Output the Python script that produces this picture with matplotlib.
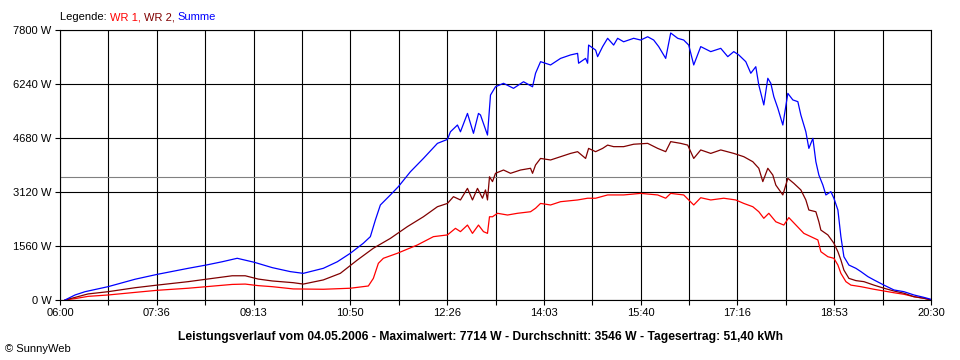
import numpy as np
import matplotlib
matplotlib.use("Agg")
import matplotlib.pyplot as plt

plt.rcParams["font.family"] = ["Liberation Sans", "DejaVu Sans"]

# Uhrzeit in Minuten seit Mitternacht, Leistung in W
t_sum = [365, 375, 385, 408, 435, 457, 488, 506, 522, 537,
         554, 572, 590, 603, 623, 637, 650, 663, 670, 675,
         680, 690, 698, 710, 723, 737, 747, 750, 757, 760,
         767, 773, 778, 780, 787, 790, 795, 803, 813, 823,
         832, 835, 840, 850, 860, 870, 877, 878, 885, 887,
         888, 895, 897, 902, 907, 913, 917, 923, 933, 940,
         947, 953, 958, 965, 970, 977, 983, 988, 993, 1000,
         1010, 1020, 1027, 1033, 1038, 1045, 1050, 1055, 1058, 1063,
         1067, 1070, 1073, 1077, 1082, 1087, 1092, 1097, 1100, 1105,
         1108, 1112, 1115, 1118, 1122, 1125, 1130, 1133, 1137, 1140,
         1143, 1148, 1155, 1160, 1167, 1173, 1183, 1193, 1203, 1213,
         1223, 1230]
p_sum = [0, 145, 240, 385, 600, 740, 915, 1010, 1105, 1205,
         1090, 935, 820, 770, 915, 1105, 1350, 1640, 1830, 2310,
         2745, 3035, 3275, 3705, 4090, 4525, 4640, 4860, 5055, 4860,
         5390, 4815, 5390, 5345, 4765, 5920, 6160, 6260, 6115, 6305,
         6160, 6550, 6885, 6790, 6980, 7080, 7125, 6840, 6980, 6840,
         7365, 7220, 7030, 7320, 7560, 7365, 7560, 7460, 7560, 7510,
         7605, 7510, 7320, 6980, 7714, 7560, 7510, 7365, 6790, 7320,
         7175, 7270, 7030, 7175, 7080, 6885, 6550, 6740, 6210, 5635,
         6405, 6260, 5875, 5540, 5055, 5970, 5780, 5730, 5345, 4860,
         4380, 4670, 3995, 3610, 3320, 3035, 3130, 2940, 2600, 1830,
         1250, 1010, 915, 820, 675, 580, 430, 290, 240, 145,
         75, 20]

t_wr2 = [365, 375, 388, 408, 435, 457, 488, 506, 532, 545,
         558, 572, 593, 603, 623, 640, 657, 673, 690, 707,
         723, 737, 747, 753, 760, 767, 772, 777, 782, 785,
         787, 789, 792, 795, 803, 810, 820, 830, 832, 835,
         840, 850, 860, 870, 877, 885, 888, 895, 902, 907,
         913, 923, 933, 947, 957, 965, 970, 980, 987, 993,
         1000, 1010, 1020, 1033, 1043, 1052, 1058, 1062, 1067, 1072,
         1075, 1082, 1087, 1093, 1100, 1105, 1108, 1115, 1118, 1120,
         1127, 1133, 1137, 1140, 1143, 1148, 1155, 1163, 1173, 1183,
         1193, 1203, 1213, 1223, 1230]
p_wr2 = [0, 75, 175, 240, 355, 430, 530, 600, 700, 700,
         605, 550, 500, 460, 580, 770, 1155, 1495, 1780, 2120,
         2405, 2695, 2790, 2985, 2890, 3225, 2890, 3225, 2940, 3180,
         2890, 3560, 3420, 3660, 3755, 3660, 3755, 3805, 3660, 3900,
         4090, 4045, 4140, 4235, 4285, 4090, 4380, 4285, 4380, 4475,
         4430, 4430, 4500, 4525, 4380, 4285, 4575, 4525, 4475, 4090,
         4335, 4235, 4335, 4235, 4140, 3995, 3805, 3420, 3805, 3610,
         3320, 3035, 3515, 3370, 3180, 2890, 2600, 2550, 2260, 2020,
         1880, 1640, 1395, 1155, 865, 625, 560, 530, 430, 340,
         260, 195, 95, 50, 0]

t_wr1 = [365, 375, 388, 408, 435, 457, 488, 506, 532, 545,
         558, 572, 593, 623, 650, 668, 673, 678, 683, 697,
         717, 733, 747, 755, 760, 767, 772, 778, 783, 787,
         789, 792, 797, 807, 817, 830, 835, 840, 850, 860,
         877, 887, 895, 907, 923, 940, 957, 965, 970, 983,
         993, 1000, 1010, 1023, 1035, 1043, 1052, 1058, 1063, 1068,
         1075, 1083, 1088, 1103, 1117, 1120, 1127, 1133, 1137, 1140,
         1145, 1150, 1160, 1173, 1183, 1193, 1203, 1213, 1223, 1230]
p_wr1 = [0, 40, 105, 145, 220, 280, 340, 385, 450, 460,
         415, 385, 320, 310, 340, 405, 625, 1060, 1205, 1350,
         1590, 1830, 1880, 2070, 1975, 2165, 1925, 2165, 1975, 1925,
         2405, 2405, 2505, 2455, 2505, 2550, 2650, 2790, 2745, 2840,
         2890, 2940, 2940, 3035, 3035, 3080, 3035, 2940, 3080, 3035,
         2745, 2955, 2890, 2940, 2890, 2790, 2695, 2550, 2360, 2505,
         2260, 2165, 2380, 1925, 1735, 1395, 1250, 1205, 1010, 770,
         530, 430, 385, 310, 260, 210, 165, 95, 50, 0]

mittel = 3546
y_ticks = [0, 1560, 3120, 4680, 6240, 7800]
x_start, x_end = 360, 1230
x_grid = np.linspace(x_start, x_end, 19)


def hhmm(m):
    m = int(m + 1e-6)
    return "%02d:%02d" % (m // 60, m % 60)


fig = plt.figure(figsize=(9.6, 3.6), dpi=100)
ax = fig.add_axes([60 / 960, 60 / 360, 871 / 960, 270 / 360])

for xv in x_grid:
    ax.axvline(xv, color="black", lw=0.8, zorder=1)
for yv in y_ticks:
    ax.axhline(yv, color="black", lw=0.8, zorder=1)
ax.axhline(mittel, color="#808080", lw=0.8, zorder=1)

ax.plot(t_wr1, p_wr1, color="#ff0000", lw=0.9, zorder=3)
ax.plot(t_wr2, p_wr2, color="#800000", lw=0.9, zorder=3)
ax.plot(t_sum, p_sum, color="#0000ff", lw=0.9, zorder=3)

ax.set_xlim(x_start, x_end)
ax.set_ylim(0, 7800)
ax.set_xticks(x_grid)
ax.set_xticklabels([hhmm(v) if i % 2 == 0 else "" for i, v in enumerate(x_grid)])
ax.set_yticks(y_ticks)
ax.set_yticklabels(["%d W" % v for v in y_ticks])
ax.tick_params(length=3.6, width=0.8, color="black", labelsize=8, pad=2.5)
for s in ax.spines.values():
    s.set_color("black")
    s.set_linewidth(0.8)

lbl = fig.text(60 / 960, 1 - 17 / 360, "Legende: ", fontsize=8, va="center", ha="left")
prev = lbl
for txt, col in [("WR 1, ", "#ff0000"), ("WR 2, ", "#800000"), ("Summe", "#0000ff")]:
    prev = ax.annotate(txt, xy=(1, 0.5), xycoords=prev, va="center", ha="left",
                       fontsize=8, color=col, annotation_clip=False)

fig.text(480 / 960, 1 - 337 / 360,
         "Leistungsverlauf vom 04.05.2006 - Maximalwert: 7714 W - Durchschnitt: 3546 W - Tagesertrag: 51,40 kWh",
         fontsize=8.7, fontweight="bold", ha="center", va="center")
fig.text(5 / 960, 1 - 349 / 360, "© SunnyWeb", fontsize=8, ha="left", va="center")

fig.savefig("out.png", dpi=100)
